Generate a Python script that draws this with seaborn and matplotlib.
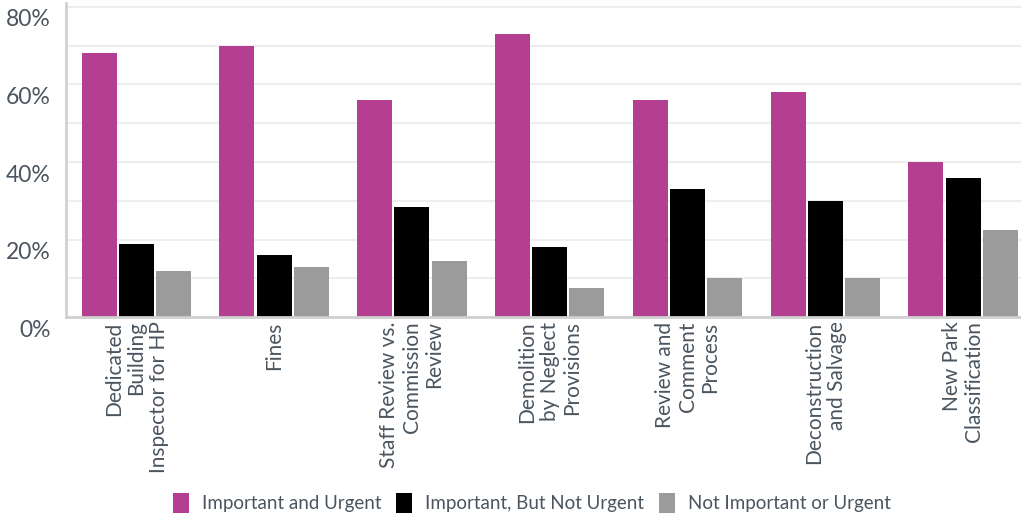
import matplotlib
matplotlib.use("Agg")
import matplotlib.pyplot as plt
import matplotlib.transforms as mtransforms
from matplotlib.ticker import MultipleLocator, FuncFormatter
import seaborn as sns
import pandas as pd

categories = [
    "Dedicated\nBuilding\nInspector for HP",
    "Fines",
    "Staff Review vs.\nCommission\nReview",
    "Demolition\nby Neglect\nProvisions",
    "Review and\nComment\nProcess",
    "Deconstruction\nand Salvage",
    "New Park\nClassification",
]
series_names = ["Important and Urgent", "Important, But Not Urgent", "Not Important or Urgent"]
important_urgent = [68, 70, 56, 73, 56, 58, 40]
important_not_urgent = [19, 16, 28.5, 18, 33, 30, 36]
not_important = [12, 13, 14.5, 7.5, 10, 10, 22.5]
colors = ["#B43E8F", "#000000", "#9B9B9B"]

rows = []
for name, vals in zip(series_names, [important_urgent, important_not_urgent, not_important]):
    for c, v in zip(categories, vals):
        rows.append({"category": c, "series": name, "value": v})
df = pd.DataFrame(rows)

sns.set_style("white")
plt.rcParams["font.family"] = ["Lato", "DejaVu Sans"]
text_color = "#4A5560"

fig = plt.figure(figsize=(10.21, 5.17), dpi=100)
ax = fig.add_axes([66 / 1021, 1 - 317.3 / 517, 1 - 66 / 1021, (317.3 - 3) / 517])

sns.barplot(data=df, x="category", y="value", hue="series", order=categories,
            hue_order=series_names, palette=colors, width=0.81, gap=0.06,
            saturation=1, ax=ax, legend=True, edgecolor="none")

ax.set_xlim(-0.51, 6.42)
ax.set_ylim(0, 81)
ax.yaxis.set_major_locator(MultipleLocator(20))
ax.yaxis.set_minor_locator(MultipleLocator(10))
ax.yaxis.set_major_formatter(FuncFormatter(lambda v, p: f"{int(v)}%"))
ax.grid(axis="y", which="both", color="#EEEEEE", linewidth=1.5)
ax.set_axisbelow(True)
ax.set_xlabel("")
ax.set_ylabel("")

for s in ["top", "right"]:
    ax.spines[s].set_visible(False)
for s in ["left", "bottom"]:
    ax.spines[s].set_color("#D0D0D0")
    ax.spines[s].set_linewidth(2)

ax.tick_params(axis="y", which="both", length=0, pad=11, labelsize=16.5, labelcolor=text_color)
ax.tick_params(axis="x", length=0, pad=3, labelsize=15, labelcolor=text_color)
ax.set_xticks(range(len(categories)))
ax.set_xticklabels(categories, rotation=90, ha="center", va="top", multialignment="right",
                   linespacing=1.15)

offset = mtransforms.ScaledTranslation(0, -11 / 100, fig.dpi_scale_trans)
for lab in ax.get_yticklabels():
    lab.set_transform(lab.get_transform() + offset)

ax.get_legend().remove()
handles = [plt.Rectangle((0, 0), 1, 1, facecolor=c, edgecolor="none") for c in colors]
leg = fig.legend(handles, series_names, loc="center", bbox_to_anchor=(0.521, 0.027),
                 ncol=3, frameon=False, fontsize=13.5, handlelength=0.85, handleheight=1.2,
                 handletextpad=0.7, columnspacing=0.8)
for t in leg.get_texts():
    t.set_color(text_color)

fig.savefig("out.png", dpi=100)
